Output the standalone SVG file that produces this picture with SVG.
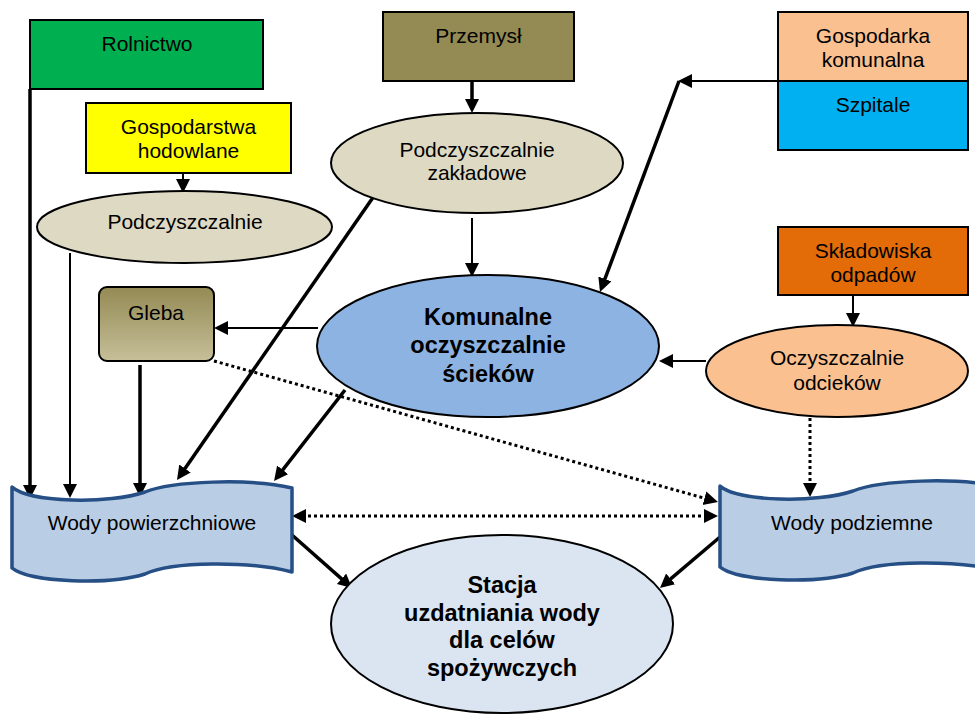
<svg xmlns="http://www.w3.org/2000/svg" width="975" height="715" viewBox="0 0 975 715">
<style>
text{font-family:"Liberation Sans",Arial,sans-serif;font-size:21px;fill:#000;text-anchor:middle}
.b{font-weight:bold;font-size:23.5px}
.box{stroke:#000;stroke-width:2}
.ell{stroke:#000;stroke-width:2}
.wody{fill:#b9cde5;stroke:#254f85;stroke-width:3.5;stroke-linejoin:round}
.thin{stroke:#000;stroke-width:2;fill:none;marker-end:url(#ah)}
.thick{stroke:#000;stroke-width:3.5;fill:none;marker-end:url(#ah)}
.dot{stroke:#000;stroke-width:3;stroke-dasharray:3 3;fill:none;marker-end:url(#ah)}
</style>
<defs>
<marker id="ah" markerUnits="userSpaceOnUse" markerWidth="16" markerHeight="16" refX="10" refY="7" orient="auto"><path d="M0,0 L14,7 L0,14 z" fill="#000"/></marker>
<marker id="ahs" markerUnits="userSpaceOnUse" markerWidth="16" markerHeight="16" refX="10" refY="7" orient="auto-start-reverse"><path d="M0,0 L14,7 L0,14 z" fill="#000"/></marker>
<linearGradient id="gleba" x1="0" y1="0" x2="0" y2="1"><stop offset="0" stop-color="#948a54"/><stop offset="1" stop-color="#c6bf99"/></linearGradient>
<path id="wave" d="M12,487 C30,503 110,504 145,492 C172,481 250,478 292,488 L292,572 C250,561 172,561 145,574 C110,585 30,583 12,568 Z"/>
</defs>

<g id="connectors">
<line class="thick" x1="30" y1="89" x2="30" y2="495"/>
<line class="thin" x1="183" y1="173" x2="183" y2="189"/>
<line class="thin" x1="70" y1="253" x2="70" y2="494"/>
<line class="thick" x1="140" y1="365" x2="140" y2="493"/>
<line class="thick" x1="472" y1="81" x2="472" y2="109"/>
<line class="thin" x1="472" y1="218" x2="472" y2="273"/>
<line class="thick" x1="374" y1="196" x2="179.3" y2="476.7"/>
<line class="thick" x1="345" y1="390" x2="276.5" y2="477.8"/>
<line class="thin" x1="318" y1="328" x2="218" y2="328"/>
<line class="thin" x1="778" y1="81" x2="682" y2="81"/>
<polyline class="thick" points="679,81 601.4,288.3"/>
<line class="thin" x1="853" y1="295" x2="853" y2="323"/>
<line class="thin" x1="706" y1="361" x2="663" y2="361"/>
<line class="dot" x1="810" y1="418" x2="810" y2="493"/>
<line class="dot" x1="214" y1="361" x2="714.1" y2="500.9"/>
<line class="dot" x1="296" y1="516" x2="714" y2="516" marker-start="url(#ahs)" marker-end="url(#ahs)"/>
<line class="thick" x1="292" y1="535" x2="349" y2="585.4"/>
<line class="thick" x1="720" y1="537" x2="663" y2="585.4"/>
</g>

<g id="rolnictwo"><rect class="box" x="30" y="20" width="233" height="69" fill="#00b050"/><text x="147" y="51">Rolnictwo</text></g>
<g id="gospodarstwa"><rect class="box" x="86" y="103" width="205" height="70" fill="#ffff00"/><text x="188.5" y="134">Gospodarstwa</text><text x="188.5" y="158">hodowlane</text></g>
<g id="podczyszczalnie"><ellipse class="ell" cx="184.5" cy="227" rx="147.5" ry="36" fill="#ddd9c3"/><text x="185" y="229">Podczyszczalnie</text></g>
<g id="przemysl"><rect class="box" x="383" y="12" width="191" height="69" fill="#948a54"/><text x="478.5" y="43">Przemysł</text></g>
<g id="zakladowe"><ellipse class="ell" cx="477" cy="163" rx="146" ry="50" fill="#ddd9c3"/><text x="477" y="157">Podczyszczalnie</text><text x="477" y="180">zakładowe</text></g>
<g id="gospodarka"><rect class="box" x="778" y="12" width="190" height="69" fill="#fac090"/><text x="873" y="43">Gospodarka</text><text x="873" y="67">komunalna</text></g>
<g id="szpitale"><rect class="box" x="778" y="81" width="190" height="69" fill="#00b0f0"/><text x="873" y="112">Szpitale</text></g>
<g id="skladowiska"><rect class="box" x="778" y="227" width="190" height="68" fill="#e36c09"/><text x="873" y="258">Składowiska</text><text x="873" y="282">odpadów</text></g>
<g id="gleba"><rect x="99" y="287" width="115" height="74" rx="8" fill="url(#gleba)" stroke="#000" stroke-width="2"/><text x="156" y="320">Gleba</text></g>
<g id="komunalne"><ellipse class="ell" cx="488" cy="346" rx="171" ry="71" fill="#8db3e2"/><text class="b" x="488" y="325">Komunalne</text><text class="b" x="488" y="353">oczyszczalnie</text><text class="b" x="488" y="382">ścieków</text></g>
<g id="odciekow"><ellipse class="ell" cx="837" cy="371" rx="131" ry="46" fill="#fac090"/><text x="837" y="365">Oczyszczalnie</text><text x="837" y="390">odcieków</text></g>
<g id="wody-powierzchniowe"><use href="#wave" class="wody"/><text x="152" y="530">Wody powierzchniowe</text></g>
<g id="wody-podziemne"><use href="#wave" class="wody" transform="translate(708,-1)"/><text x="852" y="530">Wody podziemne</text></g>
<g id="stacja"><ellipse class="ell" cx="502" cy="624" rx="171" ry="89" fill="#dbe5f1"/><text class="b" x="502" y="593">Stacja</text><text class="b" x="502" y="620.5">uzdatniania wody</text><text class="b" x="502" y="648">dla celów</text><text class="b" x="502" y="675.5">spożywczych</text></g>
</svg>
